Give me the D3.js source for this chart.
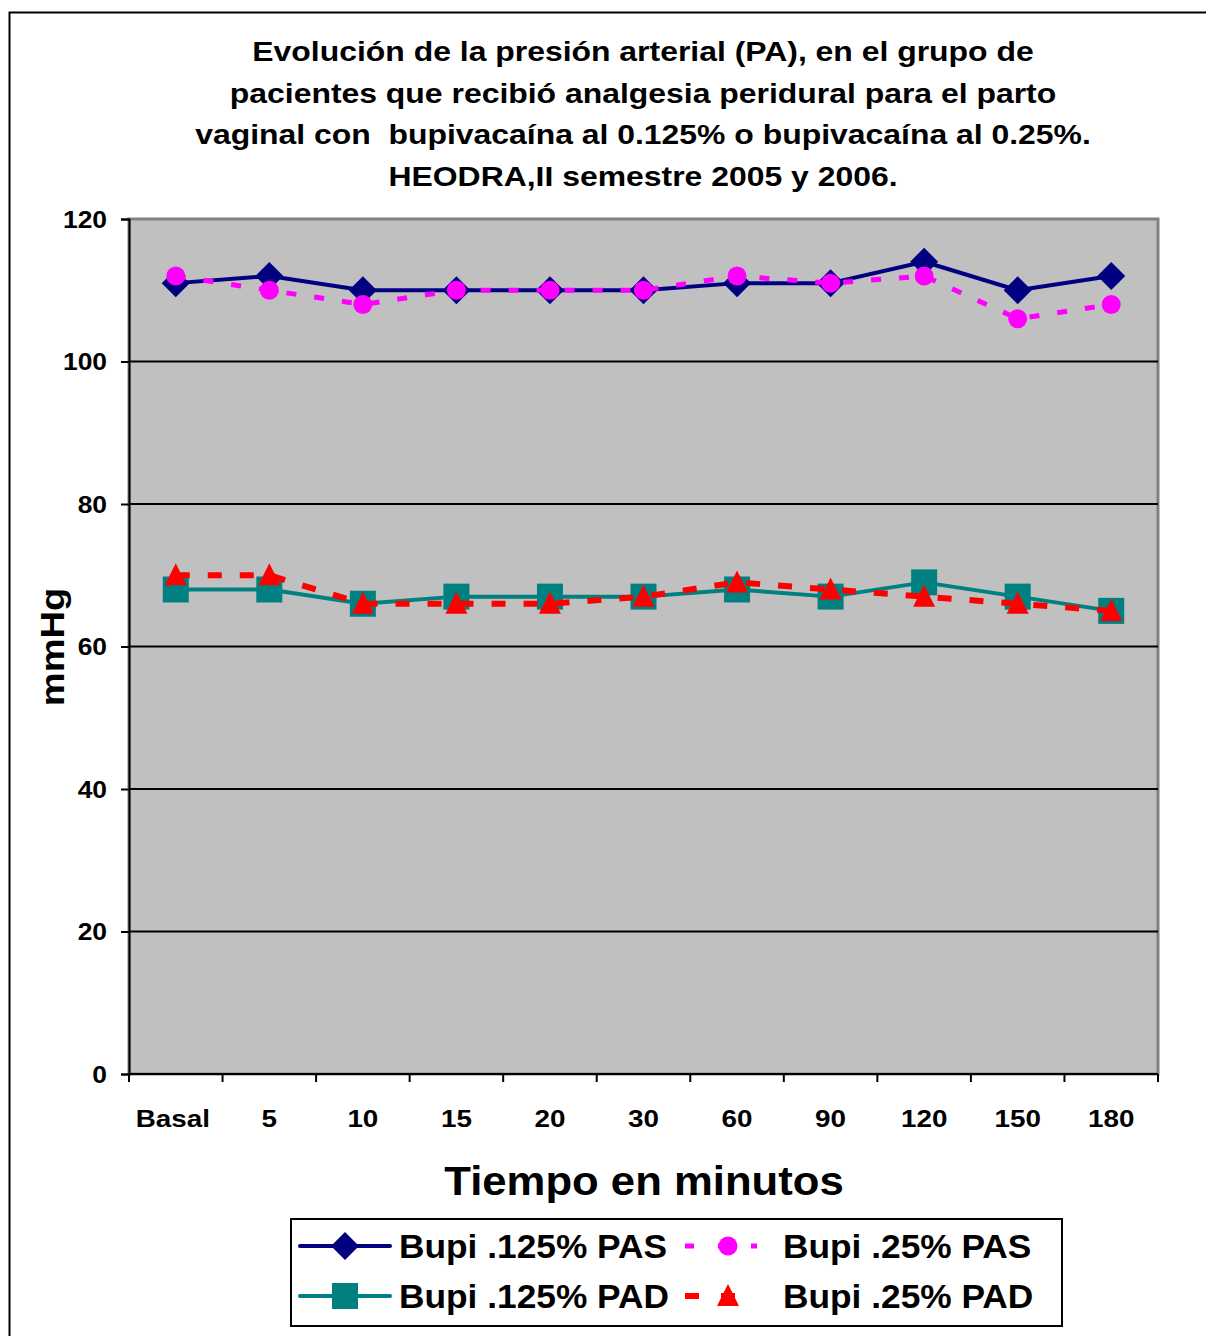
<!DOCTYPE html>
<html>
<head>
<meta charset="utf-8">
<script src="https://cdn.jsdelivr.net/npm/d3@7"></script>
<style>
  html, body { margin: 0; padding: 0; background: #ffffff; }
  svg { display: block; font-family: "Liberation Sans", Arial, sans-serif; }
  svg text { white-space: pre; }
</style>
</head>
<body>
<svg id="chart" width="1206" height="1336"></svg>
<script>
// Time points (minutes) and blood pressure readings (mmHg)
const categories = ["Basal", "5", "10", "15", "20", "30", "60", "90", "120", "150", "180"];
const pas125 = [111, 112, 110, 110, 110, 110, 111, 111, 114, 110, 112];
const pas25  = [112, 110, 108, 110, 110, 110, 112, 111, 112, 106, 108];
const pad125 = [68, 68, 66, 67, 67, 67, 68, 67, 69, 67, 65];
const pad25  = [70, 70, 66, 66, 66, 67, 69, 68, 67, 66, 65];
const yTicks = [0, 20, 40, 60, 80, 100, 120];
const titleLines = [
  "Evolución de la presión arterial (PA), en el grupo de",
  "pacientes que recibió analgesia peridural para el parto",
  "vaginal con  bupivacaína al 0.125% o bupivacaína al 0.25%.",
  "HEODRA,II semestre 2005 y 2006."
];

const series = [
  { name: "Bupi .125% PAS", values: pas125, color: "#000080", width: 4, dash: null, marker: "diamond" },
  { name: "Bupi .25% PAS",  values: pas25,  color: "#ff00ff", width: 5, dash: "10,18", marker: "circle" },
  { name: "Bupi .125% PAD", values: pad125, color: "#008080", width: 4, dash: null, marker: "square" },
  { name: "Bupi .25% PAD",  values: pad25,  color: "#ff0000", width: 6, dash: "14,18", marker: "triangle" }
];

const svg = d3.select("#chart");
const plot = { left: 129, right: 1158, top: 219, bottom: 1074 };

// Bold text, widened horizontally by sx around its anchor point
function wideText(parent, x, y, str, size, sx, anchor) {
  return parent.append("text")
    .attr("transform", `translate(${x},${y}) scale(${sx},1)`)
    .attr("text-anchor", anchor || "middle")
    .attr("font-size", size).attr("font-weight", "bold").attr("fill", "#000")
    .text(str);
}

// Outer frame
svg.append("rect").attr("x", 9.5).attr("y", 12.5).attr("width", 1240).attr("height", 1360)
  .attr("fill", "none").attr("stroke", "#000").attr("stroke-width", 2);

// Title
const titleG = svg.append("g");
titleLines.forEach((t, i) => wideText(titleG, 643, 61 + i * 41.5, t, 28, 1.14, "middle"));

const x = d3.scaleBand().domain(categories).range([plot.left, plot.right]);
const y = d3.scaleLinear().domain([0, 120]).range([plot.bottom, plot.top]);
const cx = d => x(d) + x.bandwidth() / 2;

// Plot area
svg.append("rect").attr("x", plot.left).attr("y", plot.top)
  .attr("width", plot.right - plot.left).attr("height", plot.bottom - plot.top)
  .attr("fill", "#c0c0c0").attr("stroke", "#808080").attr("stroke-width", 3);

// Gridlines
svg.append("g").selectAll("line").data(yTicks.filter(t => t > 0 && t < 120)).join("line")
  .attr("x1", plot.left).attr("x2", plot.right)
  .attr("y1", d => y(d)).attr("y2", d => y(d))
  .attr("stroke", "#000").attr("stroke-width", 2);

// Y axis (ticks from d3, labels drawn widened)
const yAxis = svg.append("g").attr("transform", `translate(${plot.left},0)`)
  .call(d3.axisLeft(y).tickValues(yTicks).tickSize(8).tickFormat(""));
yAxis.select(".domain").attr("stroke", "#000").attr("stroke-width", 2);
yAxis.selectAll(".tick line").attr("stroke", "#000").attr("stroke-width", 2);
const yLab = svg.append("g");
yTicks.forEach(t => wideText(yLab, 107, y(t) + 8.5, String(t), 24, 1.1, "end"));

// X axis with ticks at category boundaries
const xAxisG = svg.append("g").attr("transform", `translate(0,${plot.bottom})`);
xAxisG.append("line").attr("x1", plot.left).attr("x2", plot.right)
  .attr("stroke", "#000").attr("stroke-width", 2);
const bounds = categories.map(c => x(c)).concat([plot.right]);
xAxisG.selectAll("line.tk").data(bounds).join("line").attr("class", "tk")
  .attr("x1", d => d).attr("x2", d => d).attr("y1", 0).attr("y2", 8)
  .attr("stroke", "#000").attr("stroke-width", 2);
categories.forEach(c => wideText(xAxisG, cx(c) - (c === "Basal" ? 3 : 0), 53, c, 24, 1.16, "middle"));

// Axis titles
wideText(svg, 644, 1195, "Tiempo en minutos", 41, 1.065, "middle");
svg.append("text").attr("transform", "translate(64,647) rotate(-90) scale(1.12,1)")
  .attr("text-anchor", "middle").attr("font-size", 34).attr("font-weight", "bold").text("mmHg");

// Marker drawing
function drawMarker(g, kind, color) {
  if (kind === "diamond") {
    g.append("path").attr("d", "M0,-14L14,0L0,14L-14,0Z").attr("fill", color);
  } else if (kind === "circle") {
    g.append("circle").attr("r", 9.5).attr("fill", color);
  } else if (kind === "square") {
    g.append("rect").attr("x", -13).attr("y", -13).attr("width", 26).attr("height", 26).attr("fill", color);
  } else if (kind === "triangle") {
    g.append("path").attr("d", "M0,-12L11,10L-11,10Z").attr("fill", color);
  }
}

const line = d3.line().x((d, i) => cx(categories[i])).y(d => y(d));

// Lines and markers (PAD first, PAS on top)
const order = [2, 3, 0, 1];
order.forEach(k => {
  const s = series[k];
  svg.append("path").datum(s.values).attr("d", line)
    .attr("fill", "none").attr("stroke", s.color).attr("stroke-width", s.width)
    .attr("stroke-dasharray", s.dash).attr("stroke-linejoin", "round");
  s.values.forEach((v, i) => {
    const g = svg.append("g").attr("transform", `translate(${cx(categories[i])},${y(v)})`);
    drawMarker(g, s.marker, s.color);
  });
});

// Legend
const lg = svg.append("g");
lg.append("rect").attr("x", 291).attr("y", 1219).attr("width", 771).attr("height", 107)
  .attr("fill", "#fff").attr("stroke", "#000").attr("stroke-width", 2);
const legendPos = [
  { s: 0, x1: 300, x2: 390, mx: 345, tx: 399, yy: 1246 },
  { s: 1, x1: 685, x2: 757, mx: 728, tx: 783, yy: 1246 },
  { s: 2, x1: 300, x2: 390, mx: 345, tx: 399, yy: 1296 },
  { s: 3, x1: 685, x2: 757, mx: 728, tx: 783, yy: 1296 }
];
legendPos.forEach(p => {
  const s = series[p.s];
  lg.append("line").attr("x1", p.x1).attr("x2", p.x2).attr("y1", p.yy).attr("y2", p.yy)
    .attr("stroke", s.color).attr("stroke-width", s.width)
    .attr("stroke-dasharray", s.dash ? (s.marker === "circle" ? "9,24" : "14,22") : null)
    .attr("stroke-linecap", s.dash ? "butt" : "round");
  const g = lg.append("g").attr("transform", `translate(${p.mx},${p.yy})`);
  drawMarker(g, s.marker, s.color);
  wideText(lg, p.tx, p.yy + 12, s.name, 33, 1.07, "start");
});
</script>
</body>
</html>
